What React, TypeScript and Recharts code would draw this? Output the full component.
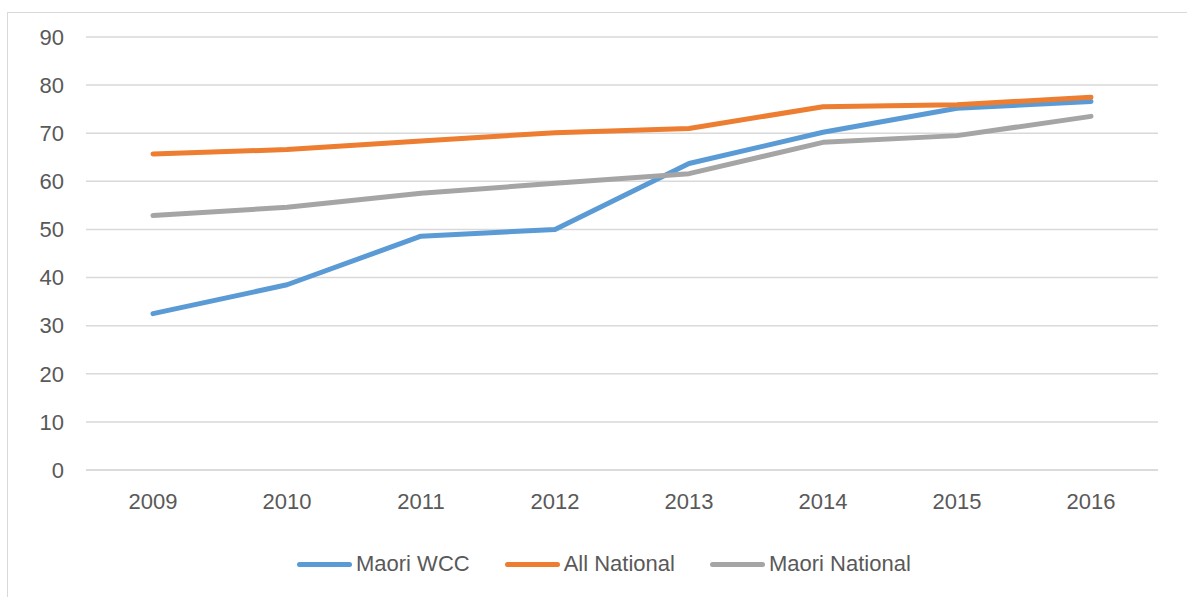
import React from 'react';
import { LineChart, Line, XAxis, YAxis, CartesianGrid, Legend } from 'recharts';

const years = ['2009', '2010', '2011', '2012', '2013', '2014', '2015', '2016'];
const maoriWCC = [32.5, 38.5, 48.6, 50.0, 63.7, 70.2, 75.2, 76.6];
const allNational = [65.7, 66.6, 68.4, 70.1, 71.0, 75.5, 75.9, 77.5];
const maoriNational = [52.9, 54.6, 57.5, 59.6, 61.6, 68.1, 69.5, 73.5];
const yTicks = [0, 10, 20, 30, 40, 50, 60, 70, 80, 90];

const seriesInfo = [
  { key: 'Maori WCC', color: '#5B9BD5' },
  { key: 'All National', color: '#ED7D31' },
  { key: 'Maori National', color: '#A5A5A5' },
];

const data = years.map((y, i) => ({
  year: y,
  'Maori WCC': maoriWCC[i],
  'All National': allNational[i],
  'Maori National': maoriNational[i],
}));

const FONT = '"Liberation Sans", Arial, sans-serif';
const TEXT = '#595959';

const LegendContent = () => (
  <div style={{ display: 'flex', alignItems: 'center', fontFamily: FONT, fontSize: 22, color: TEXT, lineHeight: '24px' }}>
    {seriesInfo.map((s, i) => (
      <div key={s.key} style={{ display: 'flex', alignItems: 'center', marginRight: i < seriesInfo.length - 1 ? 35 : 0 }}>
        <div style={{ width: 55, height: 5, borderRadius: 3, background: s.color, marginRight: 4 }} />
        <span>{s.key}</span>
      </div>
    ))}
  </div>
);

export default function App() {
  return (
    <div style={{ position: 'absolute', left: 0, top: 0, width: 1187, height: 597, overflow: 'hidden', background: '#fff' }}>
      <div style={{ position: 'absolute', left: 7, top: 12, width: 1200, height: 620, border: '1.5px solid #d9d9d9', boxSizing: 'border-box' }} />
      <div style={{ position: 'absolute', left: 0, top: 0 }}>
        <LineChart width={1187} height={597} data={data} margin={{ top: 37, right: 29, bottom: 97, left: 0 }}>
          <CartesianGrid vertical={false} stroke="#d9d9d9" strokeWidth={1.5} />
          <XAxis
            dataKey="year"
            height={30}
            padding={{ left: 67, right: 67 }}
            axisLine={{ stroke: '#d9d9d9', strokeWidth: 1.5 }}
            tickLine={false}
            tickSize={0}
            tickMargin={23}
            tick={{ fill: TEXT, fontSize: 22, fontFamily: FONT }}
          />
          <YAxis
            width={86}
            domain={[0, 90]}
            ticks={yTicks}
            axisLine={false}
            tickLine={false}
            tickSize={0}
            tickMargin={22}
            tick={{ fill: TEXT, fontSize: 22, fontFamily: FONT }}
          />
          <Legend
            verticalAlign="middle"
            align="center"
            content={<LegendContent />}
            wrapperStyle={{ position: 'absolute', top: 552, left: 297, width: 'auto' }}
          />
          {seriesInfo.map((s) => (
            <Line
              key={s.key}
              type="linear"
              dataKey={s.key}
              stroke={s.color}
              strokeWidth={5}
              strokeLinecap="round"
              strokeLinejoin="round"
              dot={false}
              activeDot={false}
              isAnimationActive={false}
            />
          ))}
        </LineChart>
      </div>
    </div>
  );
}
